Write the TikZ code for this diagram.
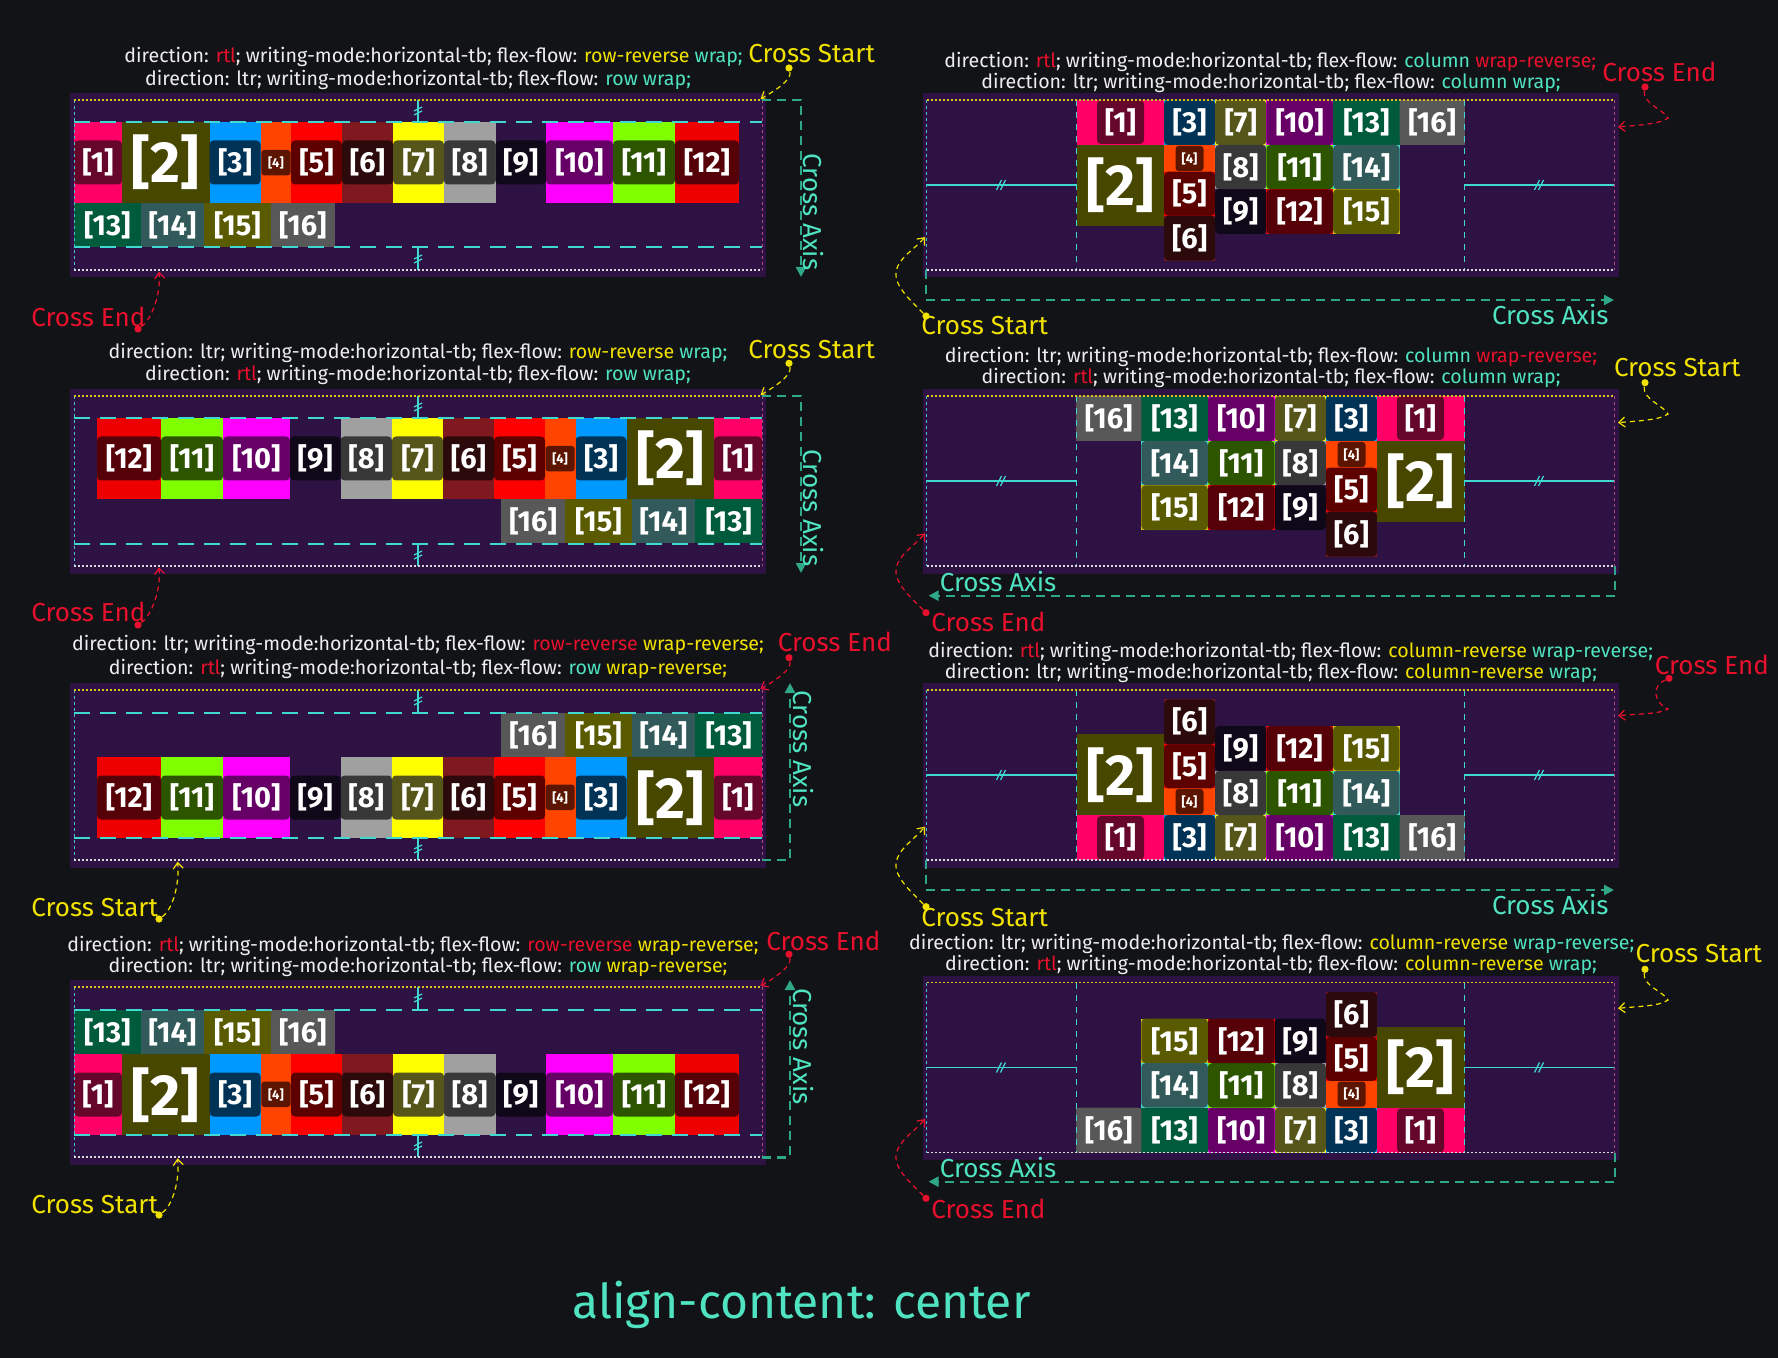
\documentclass[tikz,border=0pt]{standalone}
\usepackage{fontspec}
\setmainfont{Fira Sans}
\usetikzlibrary{arrows.meta}
\definecolor{cbg}{HTML}{121316}
\definecolor{cpanel}{HTML}{2E1244}
\definecolor{cio}{HTML}{FF0066}\definecolor{cii}{HTML}{66062A}
\definecolor{ctwo}{HTML}{474700}
\definecolor{ciiio}{HTML}{0099FF}\definecolor{ciiii}{HTML}{003355}
\definecolor{civo}{HTML}{FF4400}\definecolor{civi}{HTML}{5C1500}
\definecolor{cvo}{HTML}{FF0000}\definecolor{cvi}{HTML}{5C0000}
\definecolor{cvio}{HTML}{80191F}\definecolor{cvii}{HTML}{2C0A0C}
\definecolor{cviio}{HTML}{FFFF00}\definecolor{cviii}{HTML}{56561A}
\definecolor{cviiio}{HTML}{A0A0A0}\definecolor{cviiii}{HTML}{383838}
\definecolor{cixi}{HTML}{0F0818}
\definecolor{cxo}{HTML}{FF00FF}\definecolor{cxi}{HTML}{660066}
\definecolor{cxio}{HTML}{80FF00}\definecolor{cxii}{HTML}{2D5500}
\definecolor{cxiio}{HTML}{EE0000}\definecolor{cxiiin}{HTML}{560008}
\definecolor{cxiii}{HTML}{005A3C}
\definecolor{cxiv}{HTML}{335A5A}
\definecolor{cxv}{HTML}{5A5A00}
\definecolor{cxvi}{HTML}{585858}
\definecolor{cwhite}{HTML}{EEEEEE}
\definecolor{cred}{HTML}{E8102C}
\definecolor{cyel}{HTML}{F2E200}
\definecolor{cteal}{HTML}{4FE3C1}
\definecolor{cguide}{HTML}{3FD9D2}
\definecolor{caxis}{HTML}{2FA889}
\definecolor{cdotY}{HTML}{D9C21A}
\definecolor{cdotW}{HTML}{DADADA}
\definecolor{cdotP}{HTML}{B0507A}
\definecolor{cdotC}{HTML}{45C5CF}
\newcommand\redw[1]{\textcolor{cred}{#1}}
\newcommand\yelw[1]{\textcolor{cyel}{#1}}
\newcommand\teaw[1]{\textcolor{cteal}{#1}}
\tikzset{
 lbl/.style={text=white, font=\fontsize{14.5}{14.5}\selectfont\bfseries, inner sep=0pt},
 lblbig/.style={text=white, font=\fontsize{29}{29}\selectfont\bfseries, inner sep=0pt},
 lblsm/.style={text=white, font=\fontsize{6.5}{6.5}\selectfont\bfseries, inner sep=0pt},
 txt/.style={text=cwhite, font=\fontsize{9.8}{11}\selectfont, anchor=base, inner sep=0pt},
 crossS/.style={text=cyel, font=\fontsize{13}{15}\selectfont, anchor=base west, inner sep=0pt},
 crossE/.style={text=cred, font=\fontsize{13}{15}\selectfont, anchor=base west, inner sep=0pt},
 axislbl/.style={text=cteal, font=\fontsize{13}{15}\selectfont, inner sep=0pt},
 guide/.style={cguide, line width=1pt, dash pattern=on 8pt off 5pt},
 vguide/.style={cguide, line width=0.5pt, dash pattern=on 3pt off 3pt},
 markln/.style={cguide, line width=0.6pt},
 axisln/.style={caxis, line width=1.2pt, dash pattern=on 4.5pt off 3pt, -{Triangle[length=5pt,width=5pt]}},
 ycurve/.style={cyel, line width=0.6pt, dash pattern=on 2.5pt off 2pt, -{Straight Barb[length=3pt,width=5pt]}},
 rcurve/.style={cred, line width=0.6pt, dash pattern=on 2.5pt off 2pt, -{Straight Barb[length=3pt,width=5pt]}},
 ydot/.style={circle, fill=cyel, inner sep=0pt, minimum size=3.6pt},
 rdot/.style={circle, fill=cred, inner sep=0pt, minimum size=3.6pt},
 dotT/.style={cdotY, line width=0.75pt, dash pattern=on 1pt off 1pt},
 dotB/.style={cdotW, line width=0.75pt, dash pattern=on 1pt off 1pt},
 dotL/.style={cdotC, line width=0.5pt, dash pattern=on 1.5pt off 1.5pt},
 dotR/.style={cdotP, line width=0.5pt, dash pattern=on 1.5pt off 1.5pt},
}
% row item: name x1 x2 outer inner label
\newcommand\rowItem[6]{%
  \fill[#4] (#2,-63) rectangle (#3,18);
  \fill[#5,rounded corners=2pt] (#2,-44.5) rectangle (#3,-0.5);
  \node[lbl] (#1) at ({(#2+#3)/2},-22.5) {#6};}
% second row item: name x1 x2 color label
\newcommand\secItem[5]{%
  \fill[#4] (#2,18) rectangle (#3,62);
  \node[lbl] (#1) at ({(#2+#3)/2},40) {#5};}
\newcommand\rowItems[1]{%
  \rowItem{#1-1}{-344}{-296}{cio}{cii}{[1]}
  \fill[ctwo] (-296,-63) rectangle (-208.5,18);
  \node[lblbig] (#1-2) at (-252.25,-23) {[2]};
  \rowItem{#1-3}{-208.5}{-157.5}{ciiio}{ciiii}{[3]}
  \fill[civo] (-157.5,-63) rectangle (-127,18);
  \fill[civi,rounded corners=1.5pt] (-156.7,-35) rectangle (-127.5,-9.5);
  \node[lblsm] (#1-4) at (-142.1,-22.5) {[4]};
  \rowItem{#1-5}{-127}{-76}{cvo}{cvi}{[5]}
  \rowItem{#1-6}{-76}{-25}{cvio}{cvii}{[6]}
  \rowItem{#1-7}{-25}{26}{cviio}{cviii}{[7]}
  \rowItem{#1-8}{26}{77.5}{cviiio}{cviiii}{[8]}
  \fill[cixi,rounded corners=2pt] (77.5,-44.5) rectangle (128,-0.5);
  \node[lbl] (#1-9) at (102.75,-22.5) {[9]};
  \rowItem{#1-10}{128}{195}{cxo}{cxi}{[10]}
  \rowItem{#1-11}{195}{257}{cxio}{cxii}{[11]}
  \rowItem{#1-12}{257}{321}{cxiio}{cxiiin}{[12]}
  \secItem{#1-13}{-344}{-277.3}{cxiii}{[13]}
  \secItem{#1-14}{-277.3}{-213.7}{cxiv}{[14]}
  \secItem{#1-15}{-213.7}{-147.3}{cxv}{[15]}
  \secItem{#1-16}{-147.3}{-83}{cxvi}{[16]}}
% column item: name x1 y1 x2 y2 outer inner label
\newcommand\colItem[8]{%
  \fill[#6] (#2,#3) rectangle (#4,#5);
  \fill[#7,rounded corners=2pt] (#2,#3) rectangle (#4,#5);
  \node[lbl] (#1) at ({(#2+#4)/2},{(#3+#5)/2}) {#8};}
\newcommand\colItems[1]{%
  \fill[cio] (-194,-85) rectangle (-106.4,-40);
  \fill[cii,rounded corners=2pt] (-173.5,-85) rectangle (-126.5,-41);
  \node[lbl] (#1-1) at (-150,-62.5) {[1]};
  \fill[ctwo] (-194,-40) rectangle (-106.4,41);
  \node[lblbig] (#1-2) at (-150.2,0) {[2]};
  \colItem{#1-3}{-106.4}{-85}{-55.3}{-40}{ciiio}{ciiii}{[3]}
  \fill[civo] (-106.4,-40) rectangle (-55.3,-13.3);
  \fill[civi,rounded corners=1.5pt] (-95,-39) rectangle (-67,-14);
  \node[lblsm] (#1-4) at (-81,-26.5) {[4]};
  \colItem{#1-5}{-106.4}{-13.3}{-55.3}{30.7}{cvo}{cvi}{[5]}
  \colItem{#1-6}{-106.4}{30.7}{-55.3}{75.7}{cvio}{cvii}{[6]}
  \colItem{#1-7}{-55.3}{-85}{-4.2}{-40}{cviio}{cviii}{[7]}
  \colItem{#1-8}{-55.3}{-40}{-4.2}{4.3}{cviiio}{cviiii}{[8]}
  \colItem{#1-9}{-55.3}{4.3}{-4.2}{49}{cpanel}{cixi}{[9]}
  \colItem{#1-10}{-4.2}{-85}{62.7}{-40}{cxo}{cxi}{[10]}
  \colItem{#1-11}{-4.2}{-40}{62.7}{4.3}{cxio}{cxii}{[11]}
  \colItem{#1-12}{-4.2}{4.3}{62.7}{49}{cxiio}{cxiiin}{[12]}
  \colItem{#1-13}{62.7}{-85}{129.1}{-40}{cxiii}{cxiii}{[13]}
  \colItem{#1-14}{62.7}{-40}{129.1}{4.3}{cguide}{cxiv}{[14]}
  \colItem{#1-15}{62.7}{4.3}{129.1}{49}{cdotY}{cxv}{[15]}
  \colItem{#1-16}{129.1}{-85}{194.4}{-40}{cxvi}{cxvi}{[16]}}
\newcommand\rowGuides[2]{\begin{scope}[shift={(#1,#2)}]
  \draw[guide] (-344,-62.5) -- (344,-62.5);
  \draw[guide] (-344,62.5) -- (344,62.5);
  \draw[markln] (0,-85) -- (0,-62.5);
  \draw[markln] (0,62.5) -- (0,85);
  \draw[markln] (-4,-70) -- (4,-74); \draw[markln] (-4,-74) -- (4,-78);
  \draw[markln] (-4,78) -- (4,74); \draw[markln] (-4,74) -- (4,70);
  \end{scope}}
\newcommand\colGuides[2]{\begin{scope}[shift={(#1,#2)}]
  \draw[vguide] (-194,-85) -- (-194,85);
  \draw[vguide] (194,-85) -- (194,85);
  \draw[markln] (-344,0) -- (-194,0);
  \draw[markln] (194,0) -- (344,0);
  \draw[markln] (-274,5) -- (-269,-5); \draw[markln] (-270,5) -- (-265,-5);
  \draw[markln] (264,5) -- (269,-5); \draw[markln] (268,5) -- (273,-5);
  \end{scope}}
\newcommand\dotFrame[2]{\begin{scope}[shift={(#1,#2)}]
  \draw[dotL] (-344,-85) -- (-344,85);
  \draw[dotR] (344,-85) -- (344,85);
  \draw[dotT] (-344,-85) -- (344,-85);
  \draw[dotB] (-344,85) -- (344,85);
  \end{scope}}
\begin{document}
\begin{tikzpicture}[x=0.5pt,y=-0.5pt]
\fill[cbg] (0,0) rectangle (1778,1358);
\useasboundingbox (0,0) rectangle (1778,1358);
% panels
\foreach \cx/\cy in {418/185,418/481,418/775,418/1072,1270.5/185,1270.5/481,1270.5/775,1270.5/1067.5}{
  \begin{scope}[shift={(\cx,\cy)}]
    \fill[cpanel] (-348,-92) rectangle (348,92.5);
  \end{scope}}
% items
\begin{scope}[shift={(418,185)}] \rowItems{L1} \end{scope}
\begin{scope}[shift={(418,481)},xscale=-1] \rowItems{L2} \end{scope}
\begin{scope}[shift={(418,775)},xscale=-1,yscale=-1] \rowItems{L3} \end{scope}
\begin{scope}[shift={(418,1072)},yscale=-1] \rowItems{L4} \end{scope}
\begin{scope}[shift={(1270.5,185)}] \colItems{R1} \end{scope}
\begin{scope}[shift={(1270.5,481)},xscale=-1] \colItems{R2} \end{scope}
\begin{scope}[shift={(1270.5,775)},yscale=-1] \colItems{R3} \end{scope}
\begin{scope}[shift={(1270.5,1067.5)},xscale=-1,yscale=-1] \colItems{R4} \end{scope}
% guides
\rowGuides{418}{185}\rowGuides{418}{481}\rowGuides{418}{775}\rowGuides{418}{1072}
\colGuides{1270.5}{185}\colGuides{1270.5}{481}\colGuides{1270.5}{775}\colGuides{1270.5}{1067.5}
\dotFrame{418}{185}\dotFrame{418}{481}\dotFrame{418}{775}\dotFrame{418}{1072}
\dotFrame{1270.5}{185}\dotFrame{1270.5}{481}\dotFrame{1270.5}{775}\dotFrame{1270.5}{1067.5}

% ---------- texts left ----------
\node[txt] (L1t1) at (433.5,63) {direction: \redw{rtl}; writing-mode:horizontal-tb; flex-flow: \yelw{row-reverse} \teaw{wrap;}};
\node[txt] (L1t2) at (418,85.5) {direction: ltr; writing-mode:horizontal-tb; flex-flow: \teaw{row wrap;}};
\node[txt] (L2t1) at (418,358.5) {direction: ltr; writing-mode:horizontal-tb; flex-flow: \yelw{row-reverse} \teaw{wrap;}};
\node[txt] (L2t2) at (418,381) {direction: \redw{rtl}; writing-mode:horizontal-tb; flex-flow: \teaw{row wrap;}};
\node[txt] (L3t1) at (418,650) {direction: ltr; writing-mode:horizontal-tb; flex-flow: \redw{row-reverse} \yelw{wrap-reverse;}};
\node[txt] (L3t2) at (418,674.5) {direction: \redw{rtl}; writing-mode:horizontal-tb; flex-flow: \teaw{row} \yelw{wrap-reverse;}};
\node[txt] (L4t1) at (413,951) {direction: \redw{rtl}; writing-mode:horizontal-tb; flex-flow: \redw{row-reverse} \yelw{wrap-reverse;}};
\node[txt] (L4t2) at (418,972.5) {direction: ltr; writing-mode:horizontal-tb; flex-flow: \teaw{row} \yelw{wrap-reverse;}};
% ---------- texts right ----------
\node[txt] (R1t1) at (1270.3,67.5) {direction: \redw{rtl}; writing-mode:horizontal-tb; flex-flow: \teaw{column} \redw{wrap-reverse;}};
\node[txt] (R1t2) at (1271,88.5) {direction: ltr; writing-mode:horizontal-tb; flex-flow: \teaw{column wrap;}};
\node[txt] (R2t1) at (1271,362.5) {direction: ltr; writing-mode:horizontal-tb; flex-flow: \teaw{column} \redw{wrap-reverse;}};
\node[txt] (R2t2) at (1271,384) {direction: \redw{rtl}; writing-mode:horizontal-tb; flex-flow: \teaw{column wrap;}};
\node[txt] (R3t1) at (1290.7,657.5) {direction: \redw{rtl}; writing-mode:horizontal-tb; flex-flow: \yelw{column-reverse} \teaw{wrap-reverse;}};
\node[txt] (R3t2) at (1271,678.5) {direction: ltr; writing-mode:horizontal-tb; flex-flow: \yelw{column-reverse} \teaw{wrap;}};
\node[txt] (R4t1) at (1271.7,949.5) {direction: ltr; writing-mode:horizontal-tb; flex-flow: \yelw{column-reverse} \teaw{wrap-reverse;}};
\node[txt] (R4t2) at (1271,970) {direction: \redw{rtl}; writing-mode:horizontal-tb; flex-flow: \yelw{column-reverse} \teaw{wrap;}};

% ---------- left annotations ----------
% L1
\node[crossS] (L1cs) at (748,62.7) {Cross Start};
\node[ydot] (L1sd) at (789,68) {};
\coordinate (L1st) at (760.5,99);
\draw[ycurve] (L1sd) .. controls +(3,12) and +(14,-8) .. (L1st);
\node[crossE] (L1ce) at (31,326.7) {Cross End};
\node[rdot] (L1ed) at (138,329) {};
\coordinate (L1et) at (159,271.7);
\draw[rcurve] (L1ed) .. controls +(14,-10) and +(2,22) .. (L1et);
\coordinate (L1a0) at (762,100); \coordinate (L1a1) at (801,100); \coordinate (L1a2) at (801,277);
\draw[axisln] (L1a0) -- (L1a1) -- (L1a2);
\node[axislbl, rotate=-90] (L1ax) at (813,212) {Cross Axis};
% L2
\node[crossS] (L2cs) at (748,358.3) {Cross Start};
\node[ydot] (L2sd) at (789,363.3) {};
\coordinate (L2st) at (760.5,395);
\draw[ycurve] (L2sd) .. controls +(3,12) and +(14,-8) .. (L2st);
\node[crossE] (L2ce) at (31,621.7) {Cross End};
\node[rdot] (L2ed) at (138,625) {};
\coordinate (L2et) at (159,567.3);
\draw[rcurve] (L2ed) .. controls +(14,-10) and +(2,22) .. (L2et);
\coordinate (L2a0) at (762,396); \coordinate (L2a1) at (801,396); \coordinate (L2a2) at (801,573);
\draw[axisln] (L2a0) -- (L2a1) -- (L2a2);
\node[axislbl, rotate=-90] (L2ax) at (813,508) {Cross Axis};
% L3
\node[crossE] (L3ce) at (777.5,651.7) {Cross End};
\node[rdot] (L3ed) at (789,657.7) {};
\coordinate (L3et) at (760.5,689);
\draw[rcurve] (L3ed) .. controls +(3,12) and +(14,-8) .. (L3et);
\node[crossS] (L3cs) at (31,916.7) {Cross Start};
\node[ydot] (L3sd) at (159,919) {};
\coordinate (L3st) at (177.6,861.7);
\draw[ycurve] (L3sd) .. controls +(14,-10) and +(2,22) .. (L3st);
\coordinate (L3a0) at (762,860); \coordinate (L3a1) at (790,860); \coordinate (L3a2) at (790,683);
\draw[axisln] (L3a0) -- (L3a1) -- (L3a2);
\node[axislbl, rotate=-90] (L3ax) at (803,749) {Cross Axis};
% L4
\node[crossE] (L4ce) at (766,950.7) {Cross End};
\node[rdot] (L4ed) at (789,954.3) {};
\coordinate (L4et) at (760.5,986);
\draw[rcurve] (L4ed) .. controls +(3,12) and +(14,-8) .. (L4et);
\node[crossS] (L4cs) at (31,1213.3) {Cross Start};
\node[ydot] (L4sd) at (159,1215) {};
\coordinate (L4st) at (177.6,1158.3);
\draw[ycurve] (L4sd) .. controls +(14,-10) and +(2,22) .. (L4st);
\coordinate (L4a0) at (762,1157.3); \coordinate (L4a1) at (790,1157.3); \coordinate (L4a2) at (790,980);
\draw[axisln] (L4a0) -- (L4a1) -- (L4a2);
\node[axislbl, rotate=-90] (L4ax) at (803,1046.5) {Cross Axis};

% ---------- right annotations ----------
% R1
\node[crossE] (R1ce) at (1602,81.7) {Cross End};
\node[rdot] (R1ed) at (1645,87) {};
\coordinate (R1et) at (1618,127);
\draw[rcurve] (R1ed) .. controls +(-3,16) and +(-4,-8) .. (1668,118) .. controls +(-8,6) and +(22,-2) .. (R1et);
\node[crossS] (R1cs) at (921,335) {Cross Start};
\node[ydot] (R1sd) at (926,316) {};
\coordinate (R1st) at (925,237);
\draw[ycurve] (R1sd) .. controls +(-14,-14) and +(-2,14) .. (896,272) .. controls +(2,-14) and +(-10,12) .. (R1st);
\coordinate (R1a0) at (926,270); \coordinate (R1a1) at (926,300); \coordinate (R1a2) at (1614,300);
\draw[axisln] (R1a0) -- (R1a1) -- (R1a2);
\node[axislbl, anchor=base west] (R1ax) at (1491.6,325) {Cross Axis};
% R2
\node[crossS] (R2cs) at (1613.6,376.7) {Cross Start};
\node[ydot] (R2sd) at (1645,382.7) {};
\coordinate (R2st) at (1618,422.7);
\draw[ycurve] (R2sd) .. controls +(-3,16) and +(-4,-8) .. (1668,414) .. controls +(-8,6) and +(22,-2) .. (R2st);
\node[crossE] (R2ce) at (931,631) {Cross End};
\node[rdot] (R2ed) at (926,612.7) {};
\coordinate (R2et) at (925,533.3);
\draw[rcurve] (R2ed) .. controls +(-14,-14) and +(-2,14) .. (896,569) .. controls +(2,-14) and +(-10,12) .. (R2et);
\coordinate (R2a0) at (1615,566); \coordinate (R2a1) at (1615,595.7); \coordinate (R2a2) at (928.6,595.7);
\draw[axisln] (R2a0) -- (R2a1) -- (R2a2);
\node[axislbl, anchor=base west] (R2ax) at (939.4,591.7) {Cross Axis};
% R3
\node[crossE] (R3ce) at (1654.5,674.3) {Cross End};
\node[rdot] (R3ed) at (1669,678.3) {};
\coordinate (R3et) at (1618,715.7);
\draw[rcurve] (R3ed) .. controls +(-18,8) and +(-14,-6) .. (1668,709) .. controls +(-8,5) and +(22,-2) .. (R3et);
\node[crossS] (R3cs) at (921,926) {Cross Start};
\node[ydot] (R3sd) at (926,906.7) {};
\coordinate (R3st) at (925,826.7);
\draw[ycurve] (R3sd) .. controls +(-14,-14) and +(-2,14) .. (896,863) .. controls +(2,-14) and +(-10,12) .. (R3st);
\coordinate (R3a0) at (926,860); \coordinate (R3a1) at (926,890); \coordinate (R3a2) at (1614,890);
\draw[axisln] (R3a0) -- (R3a1) -- (R3a2);
\node[axislbl, anchor=base west] (R3ax) at (1491.6,914.3) {Cross Axis};
% R4
\node[crossS] (R4cs) at (1635.2,962.7) {Cross Start};
\node[ydot] (R4sd) at (1645,969.3) {};
\coordinate (R4st) at (1618,1008.3);
\draw[ycurve] (R4sd) .. controls +(-3,16) and +(-4,-8) .. (1668,1000) .. controls +(-8,6) and +(22,-2) .. (R4st);
\node[crossE] (R4ce) at (931,1218) {Cross End};
\node[rdot] (R4ed) at (926,1198.3) {};
\coordinate (R4et) at (925,1119);
\draw[rcurve] (R4ed) .. controls +(-14,-14) and +(-2,14) .. (896,1155) .. controls +(2,-14) and +(-10,12) .. (R4et);
\coordinate (R4a0) at (1615,1152.7); \coordinate (R4a1) at (1615,1181.7); \coordinate (R4a2) at (928.6,1181.7);
\draw[axisln] (R4a0) -- (R4a1) -- (R4a2);
\node[axislbl, anchor=base west] (R4ax) at (939.4,1177.3) {Cross Axis};

% title
\node[text=cteal, font=\fontsize{24}{28}\selectfont, anchor=base, inner sep=0pt] (title) at (801.5,1318) {align-content: center};
\end{tikzpicture}
\end{document}
